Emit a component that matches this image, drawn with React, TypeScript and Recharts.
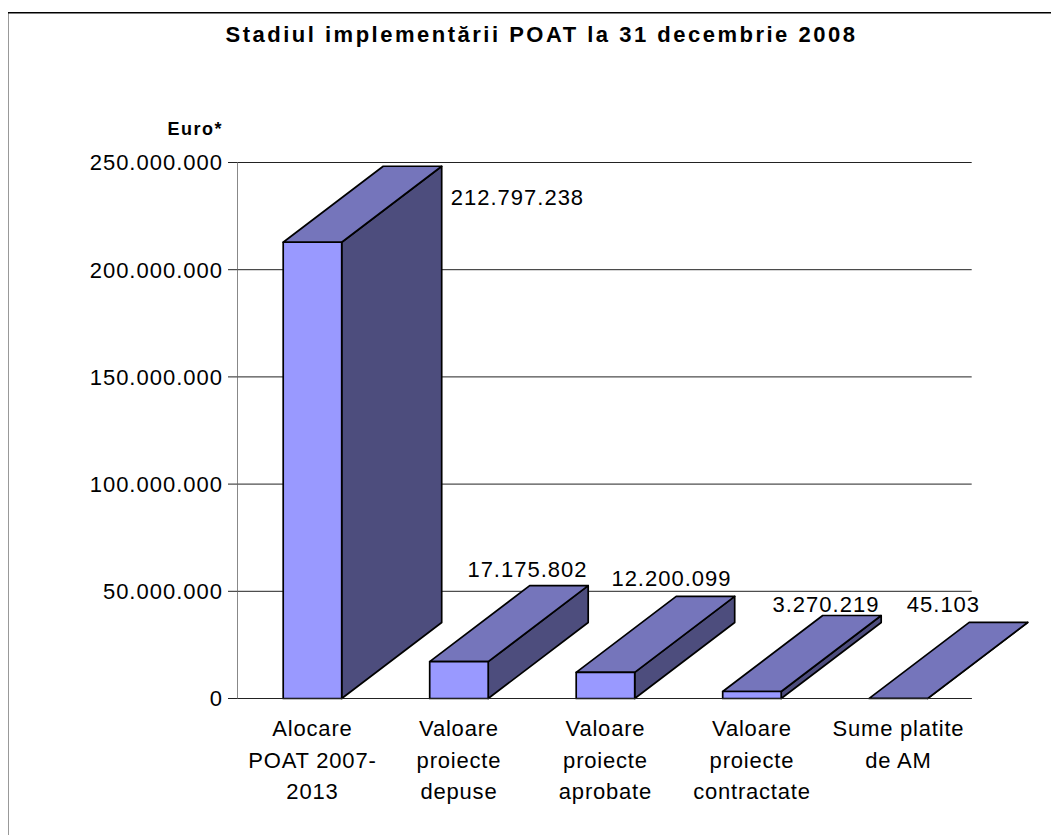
import React from 'react';
import { BarChart, Bar, XAxis, YAxis, CartesianGrid, LabelList, Customized } from 'recharts';

const categories = ['Alocare POAT 2007-2013', 'Valoare proiecte depuse', 'Valoare proiecte aprobate', 'Valoare proiecte contractate', 'Sume platite de AM'];
const categoryLines = [['Alocare', 'POAT 2007-', '2013'], ['Valoare', 'proiecte', 'depuse'], ['Valoare', 'proiecte', 'aprobate'], ['Valoare', 'proiecte', 'contractate'], ['Sume platite', 'de AM']];
const values = [212797238, 17175802, 12200099, 3270219, 45103];
const valueLabels = ['212.797.238', '17.175.802', '12.200.099', '3.270.219', '45.103'];
const yTicks = [0, 50000000, 100000000, 150000000, 200000000, 250000000];
const data = categories.map((name, i) => ({ name, value: values[i], label: valueLabels[i] }));

const FONT = '"Liberation Sans", Arial, sans-serif';
const DX = 100, DY = 76;
const fmt = (v: number) => v.toLocaleString('de-DE');

const Bar3D = (props: any) => {
  const { x, y, width, height } = props;
  const stroke = { stroke: '#000', strokeWidth: 1.7, strokeLinejoin: 'round' as const };
  const r = x + width, b = y + height;
  return (
    <g>
      <path d={`M${r},${b}L${r + DX},${b - DY}L${r + DX},${y - DY}L${r},${y}Z`} fill="#4d4d7d" {...stroke} />
      <path d={`M${x},${y}L${x + DX},${y - DY}L${r + DX},${y - DY}L${r},${y}Z`} fill="#7575bb" {...stroke} />
      {height > 0.5 && <rect x={x} y={y} width={width} height={height} fill="#9999ff" {...stroke} />}
    </g>
  );
};

const labelOffsets = [[205, -37], [68.5, -84.5], [66, -86], [74, -79], [45, -86]];
const ValueLabel = (props: any) => {
  const { x, y, width, index } = props;
  const [dx, dy] = labelOffsets[index];
  return (
    <text x={x + width / 2 + dx} y={y + dy} textAnchor="middle" fontFamily={FONT} fontSize={22} letterSpacing={1} fill="#000">
      {valueLabels[index]}
    </text>
  );
};

const CategoryTick = (props: any) => {
  const { x, y, index } = props;
  return (
    <text textAnchor="middle" fontFamily={FONT} fontSize={22} letterSpacing={0.8} fill="#000">
      {categoryLines[index].map((l, i) => (
        <tspan key={i} x={x} y={y + 29.5 + i * 31.5}>{l}</tspan>
      ))}
    </text>
  );
};

const Frame = () => (
  <g>
    <line x1={7} y1={12.7} x2={1059} y2={12.7} stroke="#000" strokeWidth={1.4} />
    <line x1={7.7} y1={12} x2={7.7} y2={835} stroke="#000" strokeWidth={1.4} />
    <text x={541.5} y={42} textAnchor="middle" fontFamily={FONT} fontSize={22} fontWeight="bold" letterSpacing={2.5} fill="#000">
      Stadiul implementării POAT la 31 decembrie 2008
    </text>
    <text x={223} y={135} textAnchor="end" fontFamily={FONT} fontSize={18} fontWeight="bold" letterSpacing={1.5} fill="#000">Euro*</text>
  </g>
);

export default function App() {
  return (
    <div style={{ width: 1059, height: 835, margin: '-8px 0 0 -8px', overflow: 'hidden' }}>
      <BarChart
        width={1059}
        height={835}
        data={data}
        margin={{ top: 162.5, right: 87.3, bottom: 0, left: 0 }}
        style={{ background: '#fff' }}
      >
        <CartesianGrid horizontal vertical={false} stroke="#222" strokeWidth={1} />
        <XAxis dataKey="name" interval={0} padding={{ left: 1.7, right: 0 }} axisLine={{ stroke: '#222' }} tickLine={false} tick={<CategoryTick />} height={136.5} />
        <YAxis
          width={237.5}
          domain={[0, 250000000]}
          ticks={yTicks}
          tickFormatter={fmt}
          axisLine={{ stroke: '#888' }}
          tickLine={{ stroke: '#222' }}
          tickSize={9.5}
          tickMargin={5}
          tick={{ fontFamily: FONT, fontSize: 22, fill: '#000', letterSpacing: 1 }}
        />
        <Bar dataKey="value" shape={<Bar3D />} isAnimationActive={false} barSize={58.5}>
          <LabelList dataKey="label" content={<ValueLabel />} />
        </Bar>
        <Customized component={Frame} />
      </BarChart>
    </div>
  );
}
